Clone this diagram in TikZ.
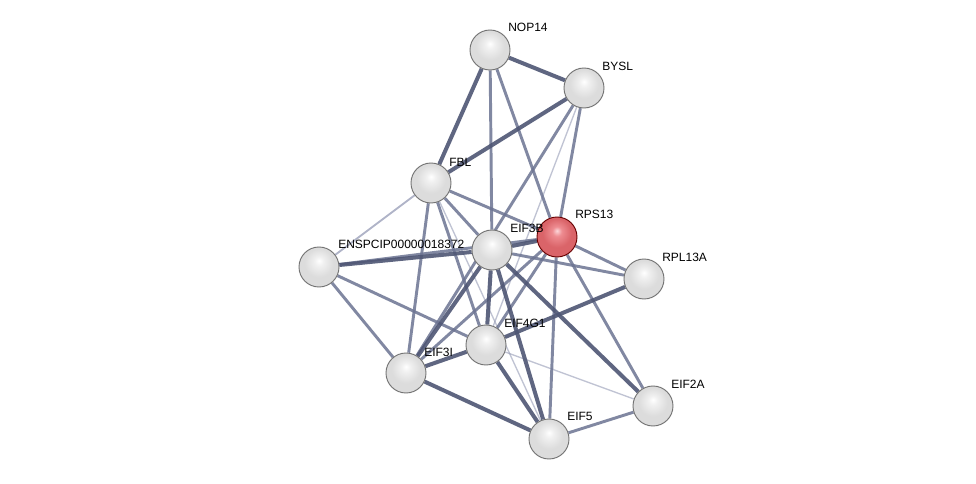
\documentclass[tikz,border=0pt]{standalone}
\usepackage{fontspec}
\setmainfont{Liberation Sans}
\pgfdeclarelayer{back}
\pgfdeclarelayer{bg}
\pgfsetlayers{back,bg,main}
\definecolor{estrong}{RGB}{78,86,116}
\definecolor{emed}{RGB}{108,116,146}
\definecolor{elight}{RGB}{150,156,182}
\definecolor{gA}{RGB}{255,255,255}
\definecolor{gB}{RGB}{240,240,240}
\definecolor{gC}{RGB}{220,220,220}
\definecolor{gD}{RGB}{160,160,160}
\definecolor{rA}{RGB}{252,215,218}
\definecolor{rB}{RGB}{238,140,145}
\definecolor{rC}{RGB}{218,100,105}
\definecolor{rD}{RGB}{150,45,50}
\pgfdeclareradialshading{graysphere}{\pgfpoint{0bp}{8bp}}{color(0bp)=(gA); color(6bp)=(gB); color(18bp)=(gC); color(28bp)=(gC); color(32bp)=(gD); color(50bp)=(gD)}
\pgfdeclareradialshading{redsphere}{\pgfpoint{0bp}{8bp}}{color(0bp)=(rA); color(6bp)=(rB); color(18bp)=(rC); color(28bp)=(rC); color(32bp)=(rD); color(50bp)=(rD)}
\tikzset{
  ball/.style={circle, minimum size=30pt, inner sep=0pt, draw=black!55, line width=0.7pt, shading=graysphere},
  redball/.style={ball, draw=red!40!black, shading=redsphere},
  lbl/.style={anchor=west, inner sep=0pt, font=\fontsize{9}{10}\selectfont, text=black},
  es/.style={draw=estrong, line width=3pt, opacity=0.9},
  em/.style={draw=emed, line width=2.2pt, opacity=0.85},
  el/.style={draw=elight, line width=1.4pt, opacity=0.75},
  ex/.style={draw=elight, line width=1pt, opacity=0.6},
}
\begin{document}
\begin{tikzpicture}[x=0.75pt, y=-0.75pt]
\begin{pgfonlayer}{back}
\useasboundingbox[fill=white] (0,0) rectangle (976,484);
\end{pgfonlayer}
% nodes
\node[ball] (nop) at (490,50) {};
\node[ball] (bysl) at (584,88) {};
\node[ball] (fbl) at (431,183) {};
\node[redball] (rps) at (557,237) {};
\node[ball] (eif3b) at (492,250) {};
\node[ball] (ensp) at (319,267) {};
\node[ball] (rpl) at (644,279) {};
\node[ball] (eif4g) at (486,345) {};
\node[ball] (eif3i) at (406,373) {};
\node[ball] (eif2a) at (653,406) {};
\node[ball] (eif5) at (549,439) {};
% labels
\node[lbl] (nop-l) at (508,27) {NOP14};
\node[lbl] (bysl-l) at (602,66) {BYSL};
\node[lbl] (fbl-l) at (449,162) {FBL};
\node[lbl] (rps-l) at (575,214) {RPS13};
\node[lbl] (eif3b-l) at (510,228) {EIF3B};
\node[lbl] (ensp-l) at (338,244) {ENSPCIP00000018372};
\node[lbl] (rpl-l) at (662,257) {RPL13A};
\node[lbl] (eif4g-l) at (504,323) {EIF4G1};
\node[lbl] (eif3i-l) at (424,352) {EIF3I};
\node[lbl] (eif2a-l) at (671,384) {EIF2A};
\node[lbl] (eif5-l) at (567,416) {EIF5};
% edges
\begin{pgfonlayer}{bg}
% light
\draw[el] (fbl) -- (ensp);
\draw[ex] (bysl) -- (eif4g);
\draw[ex] (fbl) -- (eif5);
\draw[ex] (eif4g) -- (eif2a);
% medium
\draw[em] (nop) -- (eif3b);
\draw[em] (nop) -- (rps);
\draw[em] (bysl) -- (rps);
\draw[em] (bysl) -- (eif3i);
\draw[em] (fbl) -- (rps);
\draw[em] (fbl) -- (eif3b);
\draw[em] (fbl) -- (eif3i);
\draw[em] (fbl) -- (eif4g);
\draw[em] (ensp) -- (rps);
\draw[em] (ensp) -- (eif3i);
\draw[em] (ensp) -- (eif4g);
\draw[em] (eif3b) -- (rpl);
\draw[em] (rps) -- (rpl);
\draw[em] (rps) -- (eif3i);
\draw[em] (rps) -- (eif4g);
\draw[em] (rps) -- (eif5);
\draw[em] (rps) -- (eif2a);
\draw[em] (eif5) -- (eif2a);
% strong
\draw[es] (nop) -- (bysl);
\draw[es] (nop) -- (fbl);
\draw[es] (bysl) -- (fbl);
\draw[es] (eif3b) -- (eif3i);
\draw[es] (eif3b) -- (eif4g);
\draw[es] (eif3b) -- (eif5);
\draw[es] (eif3b) -- (eif2a);
\draw[es] (eif3b) -- (rps);
\draw[es] (ensp) -- (eif3b);
\draw[es] (eif3i) -- (eif5);
\draw[es] (eif4g) -- (eif5);
\draw[es] (eif3i) -- (eif4g);
\draw[es] (eif4g) -- (rpl);
\end{pgfonlayer}
\end{tikzpicture}
\end{document}
